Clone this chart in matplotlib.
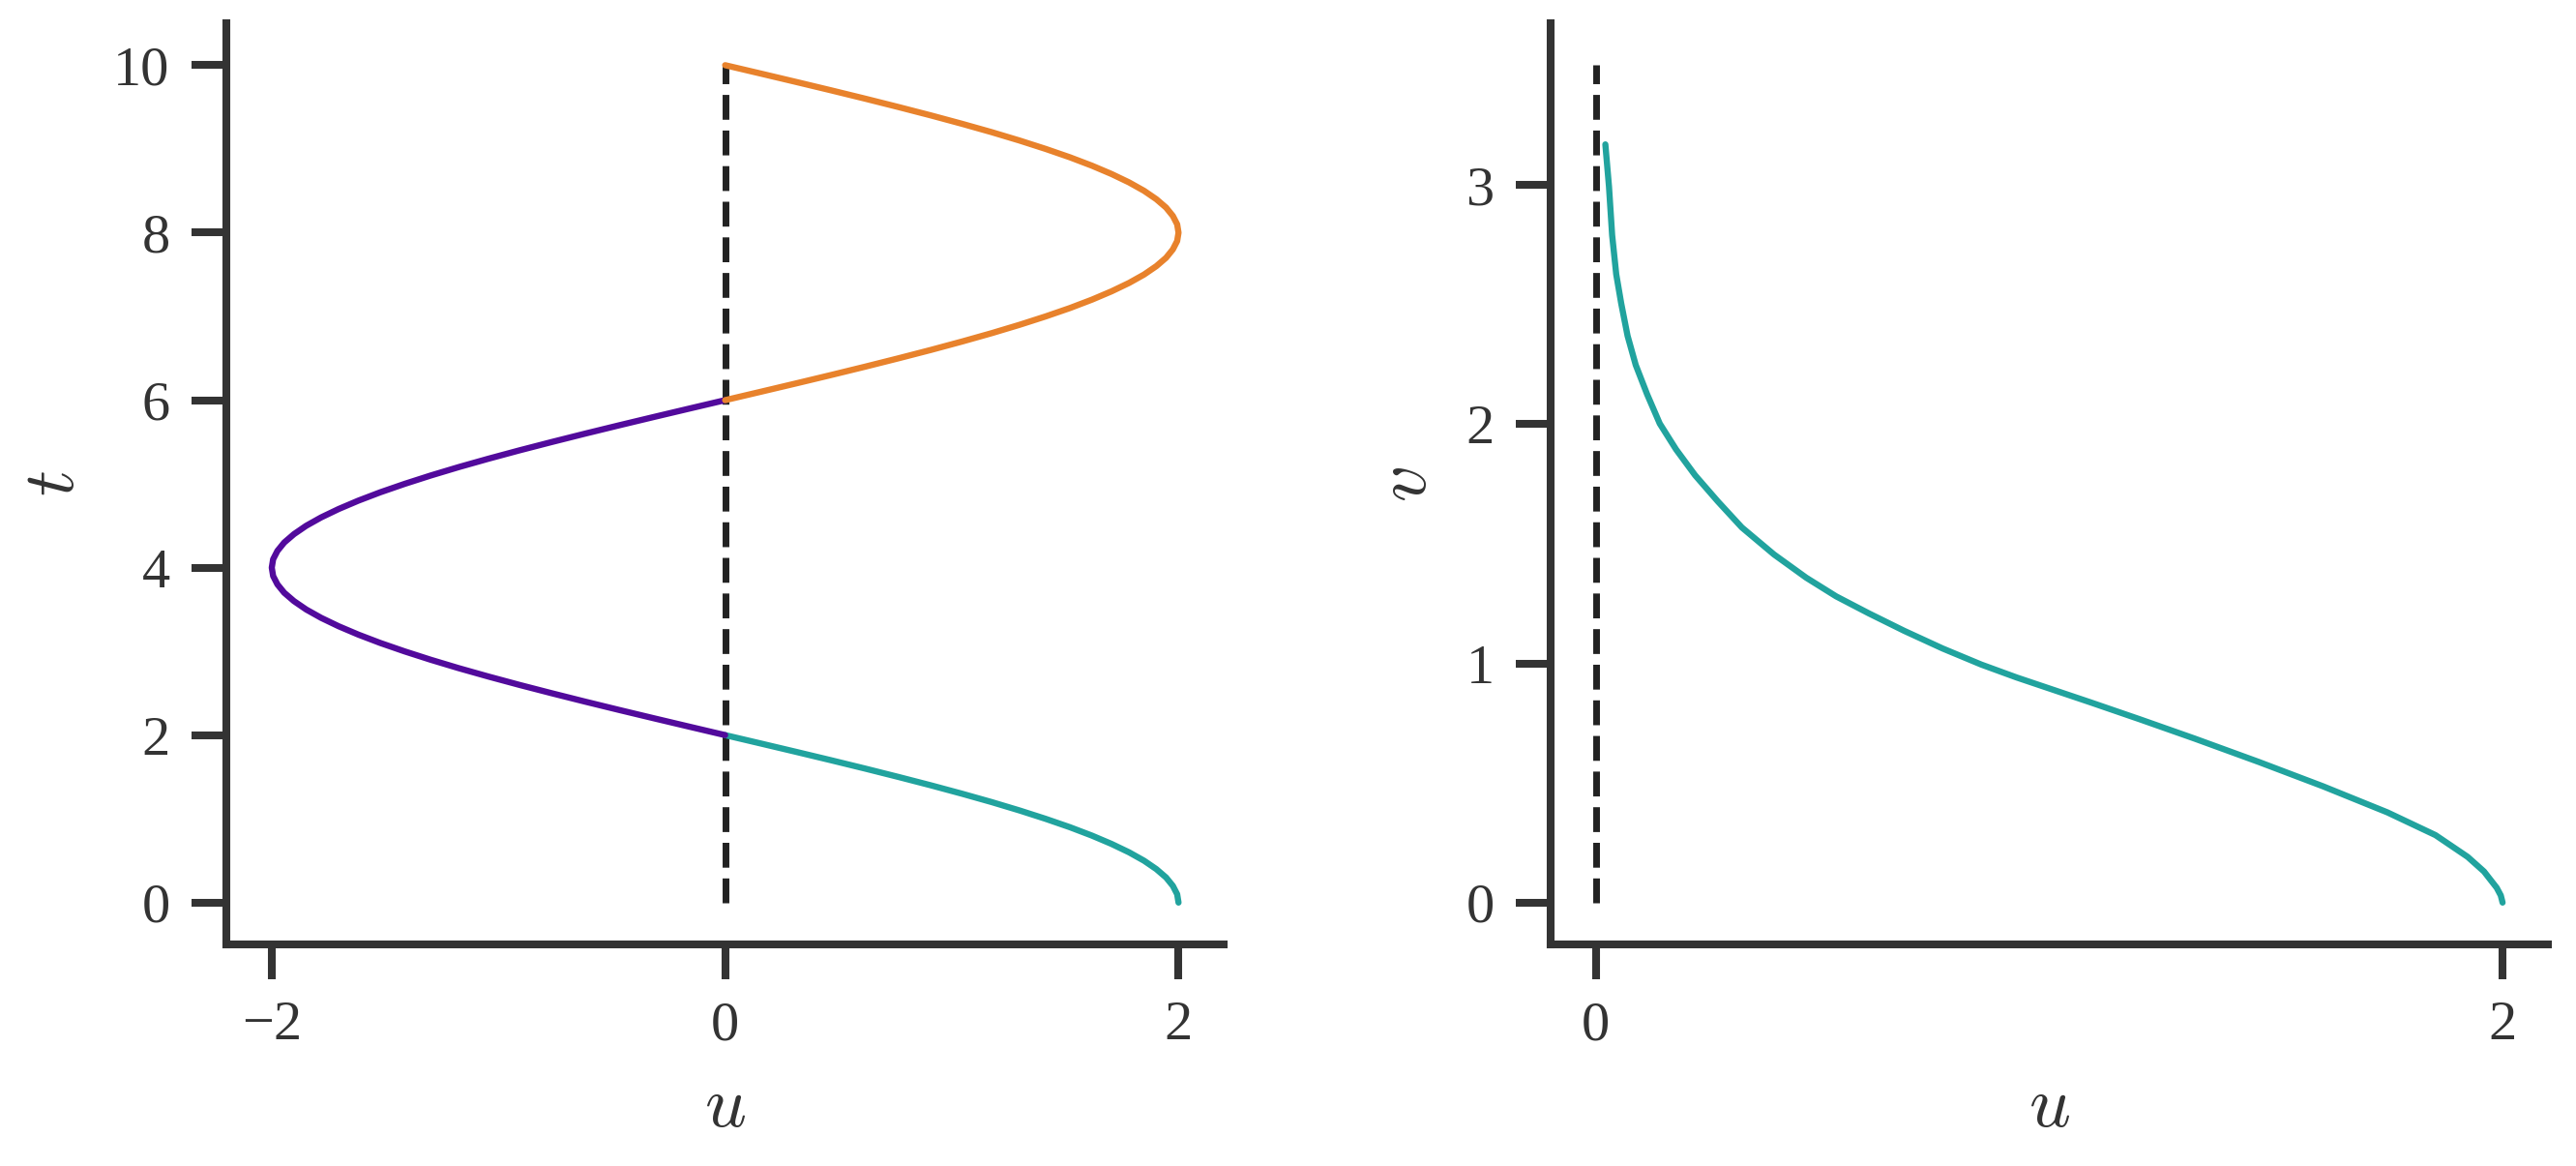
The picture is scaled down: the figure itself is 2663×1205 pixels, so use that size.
import matplotlib
matplotlib.use("Agg")
import matplotlib.pyplot as plt

# time samples and the position u(t)
t_vals = [0.0, 0.1, 0.2, 0.3, 0.4, 0.5, 0.6, 0.7, 0.8, 0.9,
          1.0, 1.1, 1.2, 1.3, 1.4, 1.5, 1.6, 1.7, 1.8, 1.9,
          2.0, 2.1, 2.2, 2.3, 2.4, 2.5, 2.6, 2.7, 2.8, 2.9,
          3.0, 3.1, 3.2, 3.3, 3.4, 3.5, 3.6, 3.7, 3.8, 3.9,
          4.0, 4.1, 4.2, 4.3, 4.4, 4.5, 4.6, 4.7, 4.8, 4.9,
          5.0, 5.1, 5.2, 5.3, 5.4, 5.5, 5.6, 5.7, 5.8, 5.9,
          6.0, 6.1, 6.2, 6.3, 6.4, 6.5, 6.6, 6.7, 6.8, 6.9,
          7.0, 7.1, 7.2, 7.3, 7.4, 7.5, 7.6, 7.7, 7.8, 7.9,
          8.0, 8.1, 8.2, 8.3, 8.4, 8.5, 8.6, 8.7, 8.8, 8.9,
          9.0, 9.1, 9.2, 9.3, 9.4, 9.5, 9.6, 9.7, 9.8, 9.9, 10.0]
u_vals = [2.000, 1.994, 1.975, 1.945, 1.902, 1.848, 1.782, 1.705, 1.618, 1.521,
          1.414, 1.299, 1.176, 1.045, 0.908, 0.765, 0.618, 0.467, 0.313, 0.157,
          0.000, -0.157, -0.313, -0.467, -0.618, -0.765, -0.908, -1.045, -1.176, -1.299,
          -1.414, -1.521, -1.618, -1.705, -1.782, -1.848, -1.902, -1.945, -1.975, -1.994,
          -2.000, -1.994, -1.975, -1.945, -1.902, -1.848, -1.782, -1.705, -1.618, -1.521,
          -1.414, -1.299, -1.176, -1.045, -0.908, -0.765, -0.618, -0.467, -0.313, -0.157,
          0.000, 0.157, 0.313, 0.467, 0.618, 0.765, 0.908, 1.045, 1.176, 1.299,
          1.414, 1.521, 1.618, 1.705, 1.782, 1.848, 1.902, 1.945, 1.975, 1.994,
          2.000, 1.994, 1.975, 1.945, 1.902, 1.848, 1.782, 1.705, 1.618, 1.521,
          1.414, 1.299, 1.176, 1.045, 0.908, 0.765, 0.618, 0.467, 0.313, 0.157, 0.000]

# right panel: v against u
u_right = [0.021, 0.029, 0.036, 0.045, 0.056, 0.070, 0.088, 0.113, 0.141, 0.177,
           0.219, 0.269, 0.322, 0.393, 0.464, 0.530, 0.602, 0.680, 0.765, 0.850,
           0.928, 1.091, 1.200, 1.320, 1.462, 1.604, 1.746, 1.852, 1.923, 1.959,
           1.987, 1.996, 2.000]
v_right = [3.169, 2.993, 2.789, 2.626, 2.504, 2.369, 2.247, 2.125, 2.002, 1.894,
           1.786, 1.677, 1.568, 1.455, 1.358, 1.280, 1.209, 1.136, 1.062, 0.995,
           0.941, 0.837, 0.766, 0.686, 0.588, 0.486, 0.377, 0.282, 0.191, 0.130,
           0.062, 0.030, 0.000]

# segment boundaries (by time) and colours
seg_edges = [(0.0, 2.0), (2.0, 6.0), (6.0, 10.0)]
seg_colors = ['#21a39e', '#520a9c', '#e8822c']

left_xticks = [-2, 0, 2]
left_yticks = [0, 2, 4, 6, 8, 10]
right_xticks = [0, 2]
right_yticks = [0, 1, 2, 3]
dash_top_left = 10
dash_top_right = 3.5

plt.rcParams['font.family'] = ['Liberation Serif', 'DejaVu Serif']
plt.rcParams['mathtext.fontset'] = 'cm'
dark = '#333333'

fig = plt.figure(figsize=(13.315, 6.025), dpi=200)
ax1 = fig.add_axes([0.0879, 0.190, 0.3872, 0.790])
ax2 = fig.add_axes([0.6019, 0.190, 0.3872, 0.790])

# left panel
ax1.plot([0, 0], [0, dash_top_left], color='#222222', lw=2.5, ls='--')
for (t0, t1), c in zip(seg_edges, seg_colors):
    tt = [t for t in t_vals if t0 <= t <= t1]
    uu = [u for t, u in zip(t_vals, u_vals) if t0 <= t <= t1]
    ax1.plot(uu, tt, color=c, lw=2.3, solid_capstyle='round',
             solid_joinstyle='round')

# right panel
ax2.plot([0, 0], [0, dash_top_right], color='#222222', lw=2.5, ls='--')
ax2.plot(u_right, v_right, color=seg_colors[0], lw=2.3,
         solid_capstyle='round', solid_joinstyle='round')

for ax, xt, yt, ylab in [(ax1, left_xticks, left_yticks, r'$t$'),
                         (ax2, right_xticks, right_yticks, r'$v$')]:
    ax.set_xticks(xt)
    ax.set_yticks(yt)
    for s in ['top', 'right']:
        ax.spines[s].set_visible(False)
    for s in ['left', 'bottom']:
        ax.spines[s].set_linewidth(2.9)
        ax.spines[s].set_color(dark)
    ax.tick_params(axis='both', length=13, width=2.9, color=dark,
                   labelcolor=dark, labelsize=21)
    ax.tick_params(axis='x', pad=8)
    ax.tick_params(axis='y', pad=8)
    ax.set_xlabel(r'$u$', fontsize=27, color=dark, labelpad=9.5)
    ax.set_ylabel(ylab, fontsize=27, color=dark, labelpad=9)

plt.savefig('out.png', dpi=200)
